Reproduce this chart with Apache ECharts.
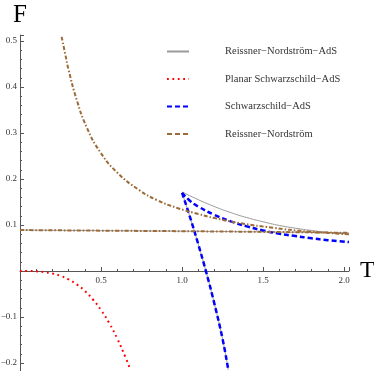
<!DOCTYPE html>
<html>
<head>
<meta charset="utf-8">
<script src="https://cdn.jsdelivr.net/npm/echarts@6/dist/echarts.min.js"></script>
<style>
html,body{margin:0;padding:0;background:#fff;}
#chart{width:374px;height:371px;}
</style>
</head>
<body>
<div id="chart"></div>
<script>
// legend names
var names = ['Reissner\u2212Nordstr\u00f6m\u2212AdS', 'Planar Schwarzschild\u2212AdS', 'Schwarzschild\u2212AdS', 'Reissner\u2212Nordstr\u00f6m'];

// gray: RN-AdS branches (T, F)
var rnAdsFlatT = [0, 0.5, 1.0, 1.5, 2.03];
var rnAdsFlatF = [0.089, 0.0877, 0.0865, 0.0850, 0.0830];
var rnAdsUpT = [1.0, 1.1, 1.2, 1.3, 1.4, 1.5, 1.6, 1.7, 1.8, 1.9, 2.03];
var rnAdsUpF = [0.172, 0.155, 0.140, 0.127, 0.116, 0.107, 0.099, 0.093, 0.088, 0.084, 0.080];
var steepT = [1.0, 1.05, 1.1, 1.15, 1.2, 1.25, 1.285];
var steepF = [0.170, 0.116, 0.058, -0.004, -0.072, -0.148, -0.215];

// red dotted: planar
var planarT = [0, 0.05, 0.1, 0.15, 0.2, 0.25, 0.3, 0.35, 0.4, 0.45, 0.5, 0.55, 0.6, 0.65, 0.675];
var planarF = [0, -0.0001, -0.0007, -0.0023, -0.0054, -0.0106, -0.0184, -0.0292, -0.0435, -0.062, -0.085, -0.113, -0.147, -0.187, -0.209];

// blue dashed: Schwarzschild-AdS
var sadsUpT = [1.0, 1.05, 1.1, 1.2, 1.3, 1.4, 1.5, 1.6, 1.7, 1.8, 1.9, 2.03];
var sadsUpF = [0.170, 0.152, 0.140, 0.122, 0.108, 0.097, 0.088, 0.081, 0.076, 0.071, 0.067, 0.063];

// brown dash-dot: RN
var rnT = [0.257, 0.28, 0.3, 0.35, 0.412, 0.494, 0.6, 0.735, 0.846, 0.97, 1.1, 1.2, 1.358, 1.56, 1.77, 2.03];
var rnF = [0.509, 0.47, 0.437, 0.372, 0.312, 0.259, 0.214, 0.176, 0.154, 0.137, 0.124, 0.115, 0.104, 0.094, 0.086, 0.080];
var rnFlatT = [0, 0.5, 1.0, 1.5, 2.03];
var rnFlatF = [0.089, 0.0877, 0.0865, 0.0850, 0.0830];

function pts(xs, ys) {
  return xs.map(function (x, i) { return [x, ys[i]]; });
}

var gray = '#9a9a9a', red = '#ff0000', blue = '#0000ff', brown = '#9c6b38';
var serif = 'Liberation Serif';

function line(name, data, color, width, type, z) {
  return {
    name: name, type: 'line', data: data, symbol: 'none', smooth: true, z: z,
    lineStyle: { color: color, width: width, type: type, cap: 'butt' },
    itemStyle: { color: color }
  };
}

var chart = echarts.init(document.getElementById('chart'));
chart.setOption({
  animation: false,
  backgroundColor: '#fff',
  // y axis runs from -0.3 (below the window) to 0.513, F=0 sits 138px above grid bottom
  grid: { left: 20, right: 25, top: 35, height: 374, outerBoundsMode: 'none', containLabel: false },
  legend: {
    orient: 'vertical', left: 161, top: 41,
    itemWidth: 22, itemHeight: 10, itemGap: 16.5,
    itemStyle: { opacity: 0 },
    textStyle: { fontFamily: serif, fontSize: 10.5, color: '#333', padding: [0, 0, 0, 31] },
    data: [
      { name: names[0] },
      { name: names[1] },
      { name: names[2] },
      { name: names[3], lineStyle: { type: [5, 3], width: 2 } }
    ]
  },
  xAxis: {
    type: 'value', min: 0, max: 2.03, interval: 0.5,
    position: 'bottom', offset: -138,
    axisLine: { onZero: false, lineStyle: { color: '#555', width: 1 } },
    axisTick: { inside: true, length: 4, lineStyle: { color: '#555' } },
    minorTick: { show: true, splitNumber: 5, length: 2, lineStyle: { color: '#555' } },
    splitLine: { show: false },
    axisLabel: {
      fontFamily: serif, fontSize: 9, color: '#333', margin: 5, showMaxLabel: false,
      formatter: function (v) { return v === 0 ? '' : v.toFixed(1); }
    }
  },
  yAxis: {
    type: 'value', min: -0.3, max: 0.513, interval: 0.1,
    axisLine: { onZero: false, lineStyle: { color: '#555', width: 1 } },
    axisTick: { inside: true, length: 4, lineStyle: { color: '#555' } },
    minorTick: { show: true, splitNumber: 5, length: 2, lineStyle: { color: '#555' } },
    splitLine: { show: false },
    axisLabel: {
      fontFamily: serif, fontSize: 9, color: '#333', margin: 3, showMaxLabel: false,
      formatter: function (v) {
        if (Math.abs(v) < 1e-9) return '';
        return (v < 0 ? '\u2212' : '') + Math.abs(v).toFixed(1);
      }
    }
  },
  graphic: [
    { type: 'text', left: 13, top: 3, style: { text: 'F', font: '25px "Liberation Serif"', fill: '#000' } },
    { type: 'text', left: 360, top: 259, style: { text: 'T', font: '24px "Liberation Serif"', fill: '#000' } }
  ],
  series: [
    line(names[0], pts(rnAdsFlatT, rnAdsFlatF), gray, 1, 'solid', 2),
    line(names[0], pts(rnAdsUpT, rnAdsUpF), gray, 1, 'solid', 2),
    line(names[0], pts(steepT, steepF), gray, 1, 'solid', 2),
    line(names[1], pts(planarT, planarF), red, 2, [1.8, 3.6], 3),
    line(names[2], pts(sadsUpT, sadsUpF), blue, 2.5, [5, 3], 3),
    line(names[2], pts(steepT, steepF), blue, 2.5, [5, 3], 3),
    line(names[3], pts(rnT, rnF), brown, 2, [4, 2, 1.5, 2], 4),
    line(names[3], pts(rnFlatT, rnFlatF), brown, 2, [4, 2, 1.5, 2], 4)
  ]
});
</script>
</body>
</html>
